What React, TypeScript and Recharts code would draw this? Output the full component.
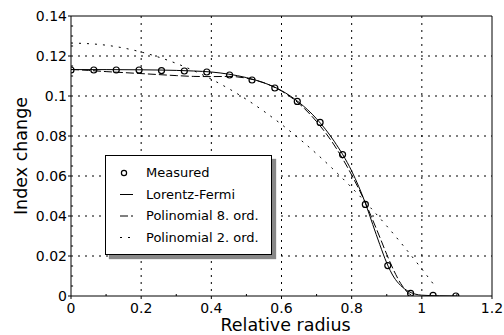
import React from 'react';
import { LineChart, Line, XAxis, YAxis, CartesianGrid, ReferenceLine } from 'recharts';

// Measured points
const measuredX = [0, 0.065, 0.129, 0.194, 0.258, 0.323, 0.387, 0.452, 0.516, 0.581, 0.645, 0.71, 0.774, 0.839, 0.903, 0.968, 1.032, 1.097];
const measuredY = [0.113, 0.113, 0.113, 0.113, 0.1127, 0.1125, 0.112, 0.1105, 0.108, 0.104, 0.0973, 0.0868, 0.0707, 0.0458, 0.0152, 0.0013, 0.0003, 0];

// Lorentz-Fermi fit
const lfX = [0, 0.1, 0.2, 0.3, 0.35, 0.4, 0.45, 0.5, 0.55, 0.6, 0.65, 0.7, 0.75, 0.8, 0.82, 0.84, 0.86, 0.88, 0.9, 0.92, 0.94, 0.96, 0.98, 1.0, 1.05, 1.1];
const lfY = [0.1132, 0.1132, 0.1131, 0.1128, 0.1125, 0.112, 0.1109, 0.1092, 0.1066, 0.1027, 0.0968, 0.0886, 0.0774, 0.0625, 0.0548, 0.046, 0.0358, 0.0258, 0.0165, 0.0095, 0.0052, 0.0025, 0.001, 0.0004, 0.0001, 0];

// Polinomial 8. ord.
const p8X = [0, 0.05, 0.1, 0.15, 0.2, 0.25, 0.3, 0.35, 0.4, 0.45, 0.5, 0.55, 0.6, 0.65, 0.7, 0.75, 0.8, 0.84, 0.86, 0.88, 0.9, 0.92, 0.94, 0.96, 0.975];
const p8Y = [0.1133, 0.1128, 0.1122, 0.1117, 0.1112, 0.1107, 0.1102, 0.1098, 0.1097, 0.1098, 0.1089, 0.1066, 0.1025, 0.0962, 0.0872, 0.0755, 0.0605, 0.0462, 0.038, 0.0295, 0.0208, 0.0128, 0.0062, 0.0017, 0];

// Polinomial 2. ord.
const p2X = [0, 0.1, 0.2, 0.3, 0.4, 0.5, 0.6, 0.7, 0.8, 0.9, 1.0, 1.035];
const p2Y = [0.1265, 0.1254, 0.122, 0.1163, 0.1084, 0.0983, 0.0858, 0.0711, 0.0542, 0.035, 0.0135, 0.0055];

const xTicks = [0, 0.2, 0.4, 0.6, 0.8, 1, 1.2];
const yTicks = [0, 0.02, 0.04, 0.06, 0.08, 0.1, 0.12, 0.14];
const xGrid = [0.2, 0.4, 0.6, 0.8, 1];
const yGrid = [0.02, 0.04, 0.06, 0.08, 0.1, 0.12];
const xMinor = [0.1, 0.3, 0.5, 0.7, 0.9, 1.1];
const yMinor = [0.005, 0.01, 0.015, 0.025, 0.03, 0.035, 0.045, 0.05, 0.055, 0.065, 0.07, 0.075, 0.085, 0.09, 0.095, 0.105, 0.11, 0.115, 0.125, 0.13, 0.135];

const legendItems = ['Measured', 'Lorentz-Fermi', 'Polinomial 8. ord.', 'Polinomial 2. ord.'];

const zip = (xs: number[], ys: number[]) => xs.map((x, i) => ({ x, y: ys[i] }));
const measured = zip(measuredX, measuredY);
const lf = zip(lfX, lfY);
const p8 = zip(p8X, p8Y);
const p2 = zip(p2X, p2Y);

const FONT = '"DejaVu Sans", Verdana, sans-serif';

const LegendBox = () => {
  const rowY = [18, 39.5, 61, 82.5];
  return (
    <div
      style={{
        position: 'absolute',
        left: 105,
        top: 155,
        width: 167,
        height: 100,
        boxSizing: 'border-box',
        border: '1px solid #000',
        background: '#fff',
        boxShadow: '4px 4px 1px #888',
        fontFamily: FONT,
        fontSize: 13,
        color: '#000',
      }}
    >
      <svg width={40} height={100} style={{ position: 'absolute', left: -1, top: -1 }}>
        <circle cx={19} cy={rowY[0]} r={2.6} fill="none" stroke="#000" strokeWidth={1.2} />
        <line x1={15} x2={28} y1={rowY[1]} y2={rowY[1]} stroke="#000" strokeWidth={1} />
        <line x1={15} x2={28} y1={rowY[2]} y2={rowY[2]} stroke="#000" strokeWidth={1} strokeDasharray="8 3" />
        <line x1={15} x2={28} y1={rowY[3]} y2={rowY[3]} stroke="#000" strokeWidth={1} strokeDasharray="2 6" />
      </svg>
      {legendItems.map((t, i) => (
        <div
          key={t}
          style={{
            position: 'absolute',
            left: 40,
            top: rowY[i] - 1 - 8,
            lineHeight: '16px',
            whiteSpace: 'nowrap',
          }}
        >
          {t}
        </div>
      ))}
    </div>
  );
};

export default function App() {
  return (
    <div style={{ position: 'absolute', left: 0, top: 0, width: 504, height: 335, background: '#fff' }}>
      <LineChart width={504} height={335} margin={{ top: 16, right: 12, bottom: 0, left: 0 }}>
        <CartesianGrid
          stroke="#000"
          strokeDasharray="2 5"
          horizontalValues={yGrid}
          verticalValues={xGrid}
        />
        <XAxis
          type="number"
          dataKey="x"
          domain={[0, 1.2]}
          ticks={xTicks}
          allowDataOverflow
          height={39}
          tickSize={3}
          tickMargin={4}
          stroke="#000"
          tick={{ fontSize: 14, fill: '#000', fontFamily: FONT }}
          tickFormatter={(v: number) => String(v)}
          label={{
            content: (props: any) => {
              const vb = props.viewBox || { x: 71, width: 421 };
              return (
                <text x={vb.x + vb.width / 2 + 4} y={331} textAnchor="middle" fontSize={17.5} fontFamily={FONT} fill="#000">
                  Relative radius
                </text>
              );
            },
          }}
        />
        <YAxis
          type="number"
          domain={[0, 0.14]}
          ticks={yTicks}
          allowDataOverflow
          width={71}
          tickSize={3}
          tickMargin={1}
          stroke="#000"
          tick={{ fontSize: 14, fill: '#000', fontFamily: FONT }}
          tickFormatter={(v: number) => String(v)}
          label={{
            content: (props: any) => {
              const vb = props.viewBox || { y: 16, height: 280 };
              const cy = vb.y + vb.height / 2;
              return (
                <text
                  x={21}
                  y={cy}
                  transform={`rotate(-90 21 ${cy})`}
                  textAnchor="middle"
                  dominantBaseline="central"
                  fontSize={17.5}
                  fontFamily={FONT}
                  fill="#000"
                >
                  Index change
                </text>
              );
            },
          }}
        />
        <ReferenceLine y={0.14} stroke="#000" ifOverflow="visible" />
        <ReferenceLine x={1.2} stroke="#000" ifOverflow="visible" />
        {xMinor.map((v) => (
          <ReferenceLine key={'xm' + v} segment={[{ x: v, y: 0 }, { x: v, y: 0.001 }]} stroke="#000" ifOverflow="visible" />
        ))}
        {yMinor.map((v) => (
          <ReferenceLine key={'ym' + v} segment={[{ x: 0, y: v }, { x: 0.006, y: v }]} stroke="#000" ifOverflow="visible" />
        ))}
        <Line data={p2} dataKey="y" type="monotone" stroke="#000" strokeWidth={1} strokeDasharray="2 6" dot={false} isAnimationActive={false} />
        <Line data={p8} dataKey="y" type="monotone" stroke="#000" strokeWidth={1} strokeDasharray="8 3" dot={false} isAnimationActive={false} />
        <Line data={lf} dataKey="y" type="monotone" stroke="#000" strokeWidth={1} dot={false} isAnimationActive={false} />
        <Line
          data={measured}
          dataKey="y"
          stroke="none"
          dot={{ r: 3, fill: 'none', stroke: '#000', strokeWidth: 1.2 }}
          isAnimationActive={false}
        />
      </LineChart>
      <LegendBox />
    </div>
  );
}
